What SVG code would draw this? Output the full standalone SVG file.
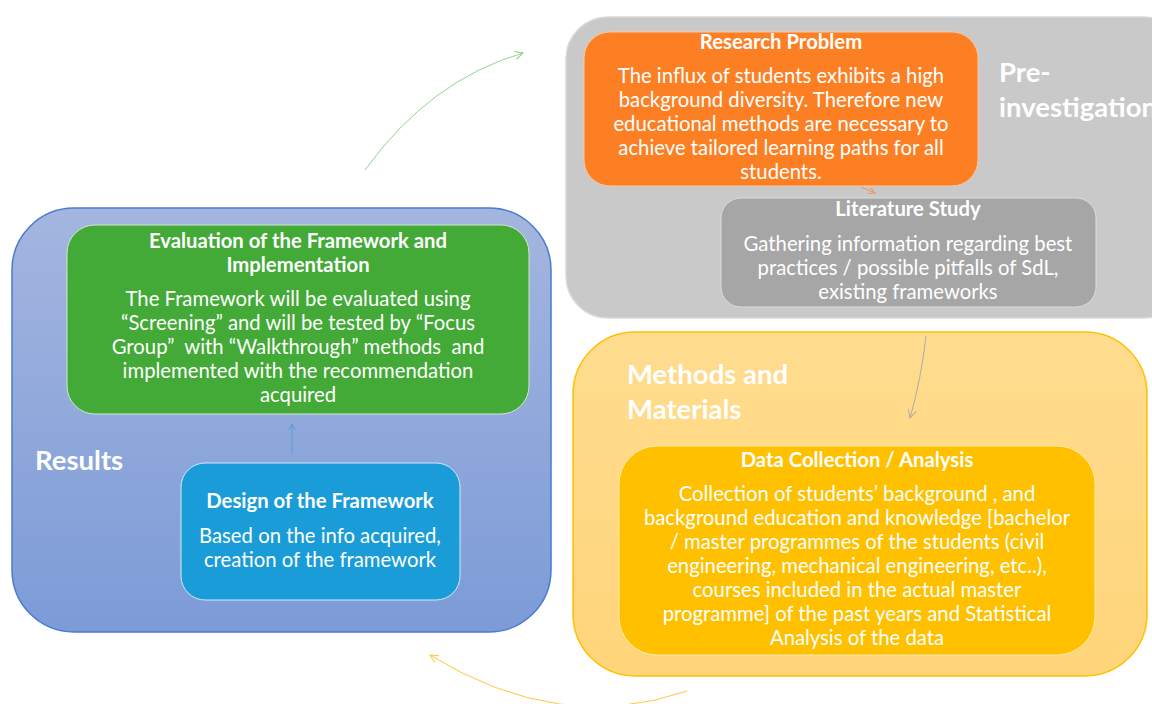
<svg xmlns="http://www.w3.org/2000/svg" width="1152" height="704" viewBox="0 0 1152 704">
<style>
.t{font-family:Lato,"Open Sans","Liberation Sans",sans-serif;fill:#fff;text-anchor:middle;font-size:20.3px}
.h{font-weight:bold;font-size:20.3px}
.big{font-family:Lato,"Open Sans","Liberation Sans",sans-serif;fill:#fff;font-weight:bold;font-size:27.5px}
.c{fill:none;stroke-width:1}
</style>
<defs>
<linearGradient id="gBlue" x1="0" y1="0" x2="0" y2="1"><stop offset="0" stop-color="#a4b6df"/><stop offset="1" stop-color="#7c9bd7"/></linearGradient>
<linearGradient id="gYel" x1="0" y1="0" x2="0" y2="1"><stop offset="0" stop-color="#ffdc8f"/><stop offset="1" stop-color="#ffd57a"/></linearGradient>
<marker id="aG" markerWidth="12" markerHeight="12" refX="9" refY="5" orient="auto" markerUnits="userSpaceOnUse"><path d="M1,1 L9,5 L1,9" fill="none" stroke="#7fcf7f" stroke-width="1"/></marker>
<marker id="aY" markerWidth="12" markerHeight="12" refX="9" refY="5" orient="auto" markerUnits="userSpaceOnUse"><path d="M1,1 L9,5 L1,9" fill="none" stroke="#ffc83a" stroke-width="1"/></marker>
<marker id="aGr" markerWidth="12" markerHeight="12" refX="9" refY="5" orient="auto" markerUnits="userSpaceOnUse"><path d="M1,1 L9,5 L1,9" fill="none" stroke="#b3aaa0" stroke-width="1"/></marker>
<marker id="aO" markerWidth="10" markerHeight="10" refX="7" refY="4" orient="auto" markerUnits="userSpaceOnUse"><path d="M1,1 L7,4 L1,7" fill="none" stroke="#f4915a" stroke-width="1"/></marker>
<marker id="aB" markerWidth="10" markerHeight="10" refX="7" refY="4" orient="auto" markerUnits="userSpaceOnUse"><path d="M1,1 L7,4 L1,7" fill="none" stroke="#5b9bd5" stroke-width="1"/></marker>
</defs>

<g id="pre-investigation">
<rect x="566" y="17" width="620" height="301" rx="42" fill="#c9c9c9" stroke="#d9d9d9" stroke-width="1.5"/>
<text class="big" x="999" y="82">Pre-</text>
<text class="big" x="999" y="117">investigation</text>
</g>
<g id="research-problem">
<rect x="584" y="32" width="394" height="154" rx="26" fill="#fd7f24" stroke="#f9c8a0" stroke-width="1"/>
<text class="t h" x="781" y="49">Research Problem</text>
<text class="t" x="781" y="83">The influx of students exhibits a high</text>
<text class="t" x="781" y="107">background diversity. Therefore new</text>
<text class="t" x="781" y="131">educational methods are necessary to</text>
<text class="t" x="781" y="155">achieve tailored learning paths for all</text>
<text class="t" x="781" y="179">students.</text>
</g>
<g id="literature-study">
<rect x="721" y="198" width="375" height="109" rx="20" fill="#a6a6a6" stroke="#dcdcdc" stroke-width="1"/>
<text class="t h" x="908" y="216">Literature Study</text>
<text class="t" x="908" y="251">Gathering information regarding best</text>
<text class="t" x="908" y="275">practices / possible pitfalls of SdL,</text>
<text class="t" x="908" y="299">existing frameworks</text>
</g>

<g id="methods-materials">
<rect x="573" y="332" width="574" height="344" rx="62" fill="url(#gYel)" stroke="#ffc000" stroke-width="1.5"/>
<text class="big" x="627" y="384">Methods and</text>
<text class="big" x="627" y="419">Materials</text>
</g>
<g id="data-collection">
<rect x="619" y="446" width="476" height="209" rx="38" fill="#ffc000" stroke="#ffe9a8" stroke-width="1"/>
<text class="t h" x="857" y="467">Data Collection / Analysis</text>
<text class="t" x="857" y="501">Collection of students’ background , and</text>
<text class="t" x="857" y="525">background education and knowledge [bachelor</text>
<text class="t" x="857" y="549">/ master programmes of the students (civil</text>
<text class="t" x="857" y="573">engineering, mechanical engineering, etc..),</text>
<text class="t" x="857" y="597">courses included in the actual master</text>
<text class="t" x="857" y="621">programme] of the past years and Statistical</text>
<text class="t" x="857" y="645">Analysis of the data</text>
</g>

<g id="results">
<rect x="12" y="208" width="539" height="424" rx="62" fill="url(#gBlue)" stroke="#4a7bd0" stroke-width="1.5"/>
<text class="big" x="35" y="470">Results</text>
</g>
<g id="evaluation">
<rect x="67" y="225" width="462" height="189" rx="28" fill="#43aa37" stroke="#cfe8c9" stroke-width="1"/>
<text class="t h" x="298" y="248">Evaluation of the Framework and</text>
<text class="t h" x="298" y="272">Implementation</text>
<text class="t" x="298" y="306">The Framework will be evaluated using</text>
<text class="t" x="298" y="330">“Screening” and will be tested by “Focus</text>
<text class="t" x="298" y="354" xml:space="preserve">Group”  with “Walkthrough” methods  and</text>
<text class="t" x="298" y="378">implemented with the recommendation</text>
<text class="t" x="298" y="402">acquired</text>
</g>
<g id="design">
<rect x="181" y="463" width="279" height="137" rx="24" fill="#1a9cd8" stroke="#cfe9f7" stroke-width="1"/>
<text class="t h" x="320" y="508">Design of the Framework</text>
<text class="t" x="320" y="543">Based on the info acquired,</text>
<text class="t" x="320" y="567">creation of the framework</text>
</g>

<g id="connectors">
<path class="c" d="M365,170 Q430,80 523,53" stroke="#8fd58f" marker-end="url(#aG)"/>
<path class="c" d="M861,187 L875,193" stroke="#f4915a" marker-end="url(#aO)"/>
<path class="c" d="M926,336 Q921,380 910,418" stroke="#b3aaa0" marker-end="url(#aGr)"/>
<path class="c" d="M292,453 L292,424" stroke="#5b9bd5" marker-end="url(#aB)"/>
<path class="c" d="M687,691 Q560,735 430,655" stroke="#ffc83a" marker-end="url(#aY)"/>
</g>
</svg>
